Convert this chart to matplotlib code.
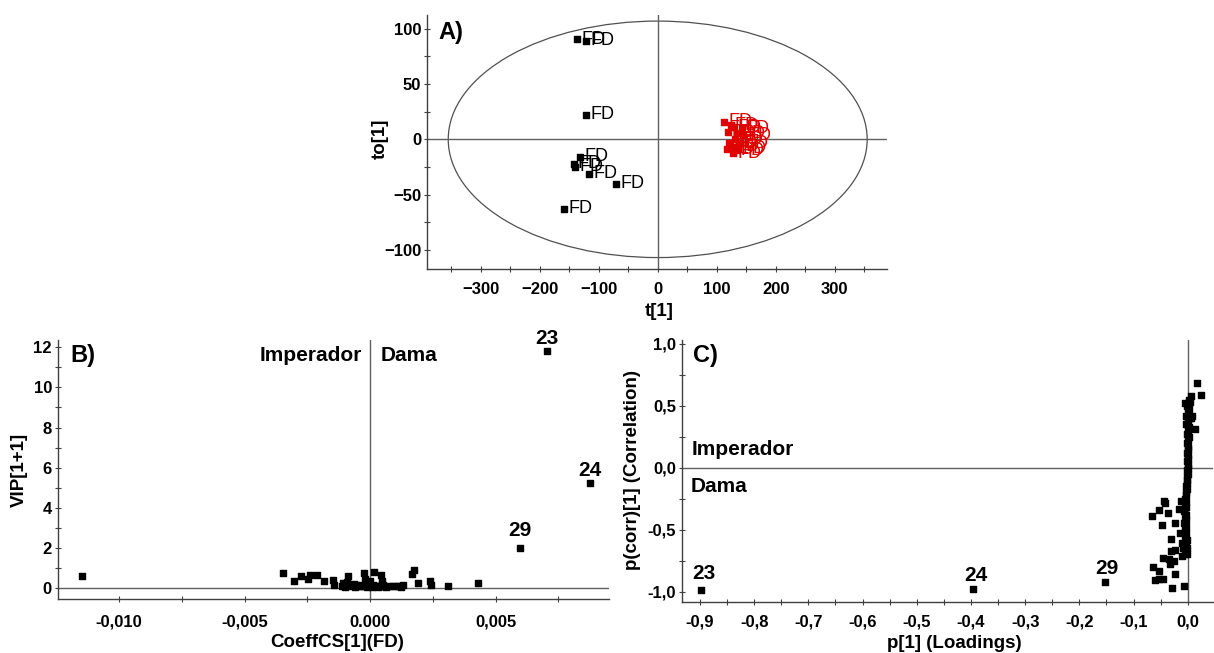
import matplotlib
matplotlib.use("Agg")
import matplotlib.pyplot as plt
from matplotlib.patches import Ellipse
from matplotlib.ticker import MultipleLocator, FixedLocator, FixedFormatter

plt.rcParams["font.family"] = ["Liberation Sans", "DejaVu Sans"]
plt.rcParams["font.weight"] = "bold"

# --- Panel A: OPLS-DA scores ---
a_black_t = [-136.7, -121.5, -121.5, -131.6, -142.4, -140.0, -115.8, -70.6, -158.0]
a_black_to = [90.5, 89.0, 22.3, -16.0, -22.0, -25.0, -31.0, -40.0, -62.7]
a_red_t = [112.9, 118.6, 123.7, 128.2, 121.4, 116.9, 125.4, 131.0, 133.9, 139.5,
           128.2, 136.6, 145.1, 142.4, 134.9]
a_red_to = [15.9, 6.3, 12.9, 10.9, -3.1, -9.1, -6.7, 0.0, -9.7, -3.6,
            -12.7, -8.1, 3.9, 9.9, 5.4]
a_ellipse = (710, 214)  # T2 ellipse width/height

# --- Panel B: VIP vs coefficients ---
b_coef = [-0.01149, 0.00705, 0.00875, 0.00598,
          -0.00345, -0.00302, -0.00273, -0.00249, -0.00239, -0.00211, -0.00182,
          -0.00146, -0.00142, -0.00108, -0.00088, -0.00091, -0.00075, -0.00055,
          -0.00024, -0.00021, 0.00000, 0.00016, 0.00043, 0.00048, 0.00052,
          0.00079, 0.00106, 0.00132, 0.00168, 0.00175, 0.00190, 0.00237,
          0.00243, 0.00310, 0.00429,
          -0.00112, -0.00100, -0.00085, -0.00070, -0.00060, -0.00045, -0.00035,
          -0.00025, -0.00012, -0.00005, 0.00008, 0.00020, 0.00030, 0.00040,
          0.00055, 0.00065, 0.00090, 0.00115, 0.00125, -0.00095, -0.00065,
          -0.00030, 0.00012, 0.00035]
b_vip = [0.60, 11.82, 5.24, 1.97,
         0.73, 0.32, 0.60, 0.45, 0.62, 0.65, 0.32,
         0.37, 0.12, 0.23, 0.58, 0.28, 0.15, 0.12,
         0.75, 0.45, 0.32, 0.78, 0.62, 0.32, 0.12,
         0.08, 0.08, 0.12, 0.70, 0.87, 0.23, 0.32,
         0.12, 0.08, 0.23,
         0.10, 0.05, 0.08, 0.12, 0.04, 0.08, 0.06,
         0.10, 0.03, 0.07, 0.05, 0.09, 0.04, 0.10,
         0.06, 0.05, 0.06, 0.07, 0.05, 0.15, 0.18,
         0.15, 0.12, 0.10]
b_names = ["23", "24", "29"]
b_name_coef = [0.00705, 0.00875, 0.00598]
b_name_vip = [12.45, 5.84, 2.88]

# --- Panel C: S-plot ---
c_p = [-0.898, -0.396, -0.152,
       0.0165, 0.0055, 0.0238, 0.0128, -0.0439, -0.0415, -0.0537, -0.0372,
       -0.0665, -0.0482, -0.0232, -0.0122, -0.0159, -0.0146, -0.0311, -0.0116,
       -0.0085, -0.0311, -0.0232, -0.0463, -0.0354, -0.0250, -0.0098, -0.0049,
       -0.0329, -0.0646, -0.0537, -0.0232, -0.0598, -0.0524, -0.0463, -0.0293,
       -0.0067,
       0.002, 0.000, -0.002, 0.003, 0.000, -0.003, 0.004, 0.001, -0.002, 0.002,
       0.000, -0.001, 0.002, 0.000, -0.002, 0.001, 0.000, -0.001, 0.001, 0.000,
       -0.001, 0.000, 0.000, -0.001, 0.000, -0.002, -0.001, -0.002, -0.003,
       -0.002, -0.004, -0.003, -0.005, -0.004, -0.006, -0.003, -0.007, -0.004,
       -0.006, -0.003, -0.007, -0.004, -0.006, -0.003, -0.005, -0.002, -0.004,
       -0.002, -0.001, -0.005, 0.004, 0.005, -0.004, 0.0085]
c_corr = [-0.985, -0.980, -0.925,
          0.685, 0.578, 0.583, 0.315, -0.269, -0.288, -0.341, -0.363,
          -0.390, -0.462, -0.449, -0.269, -0.336, -0.524, -0.578, -0.605,
          -0.645, -0.672, -0.667, -0.726, -0.734, -0.753, -0.712, -0.699,
          -0.780, -0.798, -0.833, -0.860, -0.909, -0.901, -0.895, -0.973,
          -0.954,
          0.55, 0.52, 0.50, 0.47, 0.45, 0.42, 0.40, 0.38, 0.35, 0.33,
          0.30, 0.27, 0.25, 0.22, 0.20, 0.17, 0.15, 0.12, 0.10, 0.07,
          0.05, 0.02, 0.00, -0.02, -0.05, -0.07, -0.10, -0.12, -0.15,
          -0.17, -0.20, -0.22, -0.25, -0.28, -0.30, -0.32, -0.35, -0.38,
          -0.40, -0.42, -0.45, -0.48, -0.50, -0.53, -0.55, -0.58, -0.60,
          -0.65, -0.70, 0.52, 0.53, 0.40, 0.35, 0.42]
c_names = ["23", "24", "29"]
c_name_p = [-0.892, -0.391, -0.150]
c_name_corr = [-0.852, -0.871, -0.817]

W, H = 1214, 653
SPINE = "#404040"
ZERO = "#606060"
TICK_FS = 12
LABEL_FS = 13.5


def px_axes(fig, left, right, top, bottom):
    return fig.add_axes([left / W, 1 - bottom / H, (right - left) / W, (bottom - top) / H])


def style(ax, xpad):
    for side in ("top", "right"):
        ax.spines[side].set_visible(False)
    for side in ("left", "bottom"):
        ax.spines[side].set_color(SPINE)
        ax.spines[side].set_linewidth(1.0)
    ax.tick_params(which="major", direction="inout", length=5, width=0.8,
                   color=SPINE, labelsize=TICK_FS)
    ax.tick_params(which="minor", direction="inout", length=4, width=0.8, color=SPINE)
    ax.tick_params(axis="x", which="major", pad=xpad)
    ax.tick_params(axis="y", which="major", pad=1.5)
    for lbl in ax.get_xticklabels() + ax.get_yticklabels():
        lbl.set_fontweight("bold")


def put_labels(ax, xlabel, xpos, ylabel, ypos):
    ax.set_xlabel(xlabel, fontsize=LABEL_FS, fontweight="bold", va="center")
    ax.set_ylabel(ylabel, fontsize=LABEL_FS, fontweight="bold", va="center")
    ax.xaxis.set_label_coords(*xpos)
    ax.yaxis.set_label_coords(*ypos)


fig = plt.figure(figsize=(W / 100, H / 100), dpi=100)

# ---------------- Panel A ----------------
ax_a = px_axes(fig, 426.7, 887, 15, 268.5)
ax_a.set_xlim(-391.5, 388.6)
ax_a.set_ylim(-116.9, 112.5)
ax_a.axhline(0, color=ZERO, lw=1)
ax_a.axvline(0, color=ZERO, lw=1)
ax_a.add_patch(Ellipse((0, 0), a_ellipse[0], a_ellipse[1], fill=False,
                       edgecolor="#505050", lw=0.9))
ax_a.scatter(a_black_t, a_black_to, marker="s", s=15, color="black", zorder=3)
for t, to in zip(a_black_t, a_black_to):
    ax_a.annotate("FD", (t, to), xytext=(3, 0), textcoords="offset points",
                  ha="left", va="center", fontsize=13, fontweight="normal",
                  color="black")
ax_a.scatter(a_red_t, a_red_to, marker="s", s=15, color="#e00000", zorder=3)
for t, to in zip(a_red_t, a_red_to):
    ax_a.annotate("FD", (t, to), xytext=(3, 0), textcoords="offset points",
                  ha="left", va="center", fontsize=13, fontweight="normal",
                  color="#e00000")
ax_a.xaxis.set_major_locator(MultipleLocator(100))
ax_a.xaxis.set_minor_locator(MultipleLocator(50))
ax_a.yaxis.set_major_locator(MultipleLocator(50))
ax_a.yaxis.set_minor_locator(MultipleLocator(25))
style(ax_a, 7.5)
ax_a.text(-371, 97, "A)", fontsize=17, fontweight="bold", ha="left", va="center")
put_labels(ax_a, "t[1]", (0.505, -0.170), "to[1]", (-0.101, 0.511))

# ---------------- Panel B ----------------
ax_b = px_axes(fig, 57.5, 609, 340, 599.3)
ax_b.set_xlim(-0.01245, 0.00952)
ax_b.set_ylim(-0.58, 12.37)
ax_b.axhline(0, color=ZERO, lw=1)
ax_b.axvline(0, color=ZERO, lw=1)
ax_b.scatter(b_coef, b_vip, marker="s", s=17, color="black", zorder=3)
for name, x, y in zip(b_names, b_name_coef, b_name_vip):
    ax_b.text(x, y, name, fontsize=15, fontweight="bold", ha="center",
              va="center", clip_on=False)
ax_b.xaxis.set_major_locator(FixedLocator([-0.010, -0.005, 0.0, 0.005]))
ax_b.xaxis.set_major_formatter(FixedFormatter(["-0,010", "-0,005", "0.000", "0,005"]))
ax_b.xaxis.set_minor_locator(MultipleLocator(0.0025))
ax_b.yaxis.set_major_locator(MultipleLocator(2))
ax_b.yaxis.set_minor_locator(MultipleLocator(1))
style(ax_b, 8.5)
ax_b.text(-0.01193, 11.6, "B)", fontsize=17, fontweight="bold", ha="left", va="center")
ax_b.text(-0.0003, 11.6, "Imperador", fontsize=15, fontweight="bold",
          ha="right", va="center")
ax_b.text(0.00044, 11.6, "Dama", fontsize=15, fontweight="bold",
          ha="left", va="center")
put_labels(ax_b, "CoeffCS[1](FD)", (0.507, -0.165), "VIP[1+1]", (-0.069, 0.499))

# ---------------- Panel C ----------------
ax_c = px_axes(fig, 681.5, 1213, 340, 601.7)
ax_c.set_xlim(-0.934, 0.0465)
ax_c.set_ylim(-1.081, 1.03)
ax_c.axhline(0, color=ZERO, lw=1)
ax_c.axvline(0, color=ZERO, lw=1)
ax_c.scatter(c_p, c_corr, marker="s", s=17, color="black", zorder=3)
for name, x, y in zip(c_names, c_name_p, c_name_corr):
    ax_c.text(x, y, name, fontsize=15, fontweight="bold", ha="center", va="center")
c_xticks = [-0.9, -0.8, -0.7, -0.6, -0.5, -0.4, -0.3, -0.2, -0.1, 0.0]
ax_c.xaxis.set_major_locator(FixedLocator(c_xticks))
ax_c.xaxis.set_major_formatter(FixedFormatter([f"{v:.1f}".replace(".", ",") for v in c_xticks]))
ax_c.xaxis.set_minor_locator(MultipleLocator(0.05))
c_yticks = [-1.0, -0.5, 0.0, 0.5, 1.0]
ax_c.yaxis.set_major_locator(FixedLocator(c_yticks))
ax_c.yaxis.set_major_formatter(FixedFormatter([f"{v:.1f}".replace(".", ",") for v in c_yticks]))
ax_c.yaxis.set_minor_locator(MultipleLocator(0.25))
style(ax_c, 6.5)
ax_c.text(-0.912, 0.909, "C)", fontsize=17, fontweight="bold", ha="left", va="center")
ax_c.text(-0.916, 0.15, "Imperador", fontsize=15, fontweight="bold", ha="left", va="center")
ax_c.text(-0.918, -0.153, "Dama", fontsize=15, fontweight="bold", ha="left", va="center")
put_labels(ax_c, "p[1] (Loadings)", (0.514, -0.158),
           "p(corr)[1] (Correlation)", (-0.0918, 0.503))

fig.savefig("out.png", dpi=100)
